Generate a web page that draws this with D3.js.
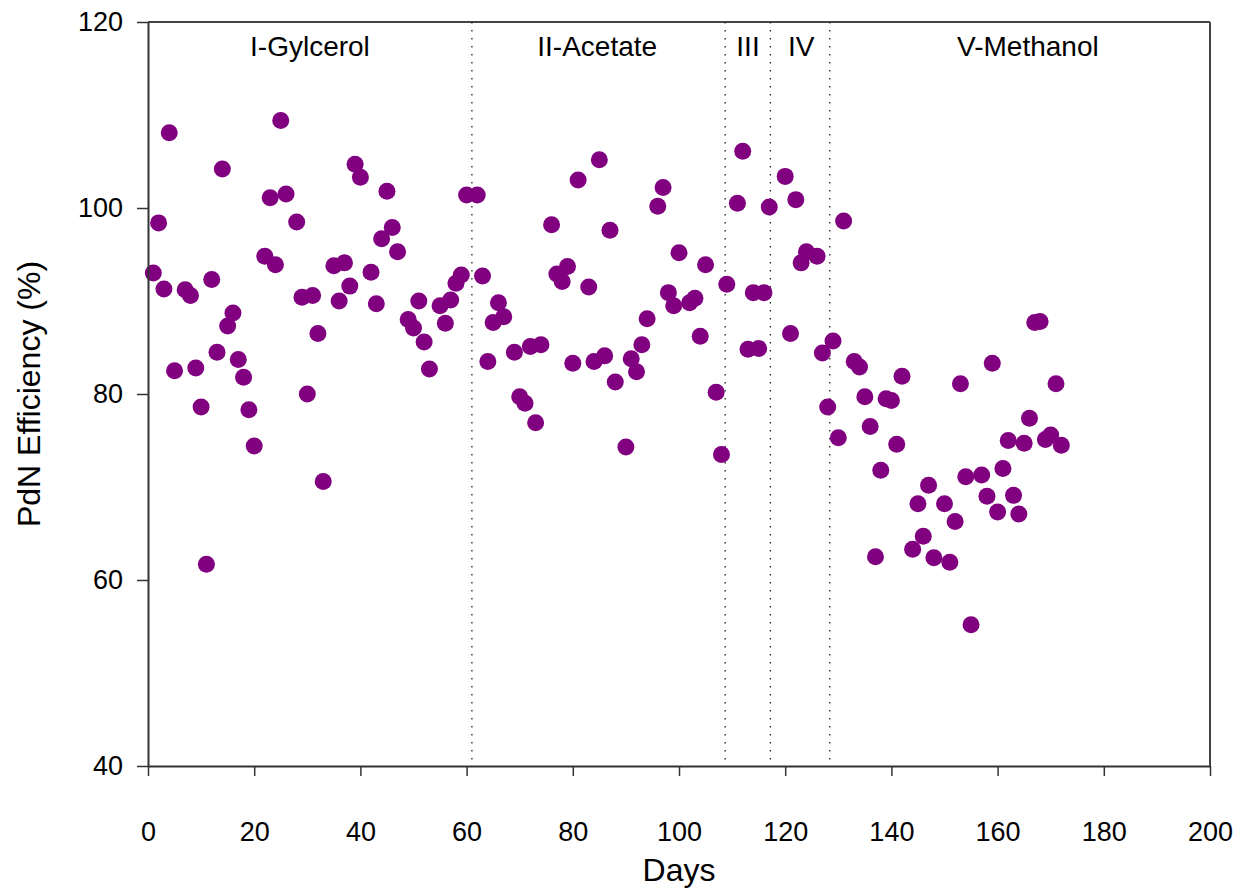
<!DOCTYPE html>
<html>
<head>
<meta charset="utf-8">
<script src="https://cdn.jsdelivr.net/npm/d3@7"></script>
<style>
  body { margin: 0; background: #fff; }
  text { font-family: "Liberation Sans", Arial, sans-serif; fill: #000; }
</style>
</head>
<body>
<script>
// days and PdN efficiency (%)
var days = [1, 2, 3, 4, 5, 7, 8, 9, 10, 11, 12, 13, 14, 15, 16, 17, 18, 19, 20,
  22, 23, 24, 25, 26, 28, 29, 30, 31, 32, 33, 35, 36, 37, 38, 39, 40,
  42, 43, 44, 45, 46, 47, 49, 50, 51, 52, 53, 55, 56, 57, 58, 59, 60, 62, 63,
  64, 65, 66, 67, 69, 70, 71, 72, 73, 74, 76, 77, 78, 79, 80, 81, 83, 84, 85, 86, 87, 88,
  90, 91, 92, 93, 94, 96, 97, 98, 99, 100, 102, 103, 104, 105, 107, 108, 109,
  111, 112, 113, 114, 115, 116, 117,
  120, 121, 122, 123, 124, 126, 127, 128,
  129, 130, 131, 133, 134, 135, 136, 137, 138, 139, 140, 141, 142, 144, 145, 146, 147, 148,
  150, 151, 152, 153, 154, 155, 157, 158, 159, 160, 161, 162, 163, 164, 165, 166, 167, 168,
  169, 170, 171, 172];
var pdn = [93.0, 98.4, 91.3, 108.1, 82.5, 91.2, 90.6, 82.8, 78.6, 61.7, 92.3, 84.5, 104.2, 87.3, 88.7, 83.7, 81.8, 78.3, 74.4,
  94.8, 101.1, 93.9, 109.4, 101.5, 98.5, 90.4, 80.0, 90.6, 86.5, 70.6, 93.8, 90.0, 94.1, 91.6, 104.7, 103.3,
  93.1, 89.7, 96.7, 101.8, 97.9, 95.3, 88.0, 87.1, 90.0, 85.6, 82.7, 89.5, 87.6, 90.1, 91.9, 92.8, 101.4, 101.4, 92.7,
  83.5, 87.7, 89.8, 88.3, 84.5, 79.7, 79.0, 85.1, 76.9, 85.3, 98.2, 92.9, 92.1, 93.7, 83.3, 103.0, 91.5, 83.5, 105.2, 84.1, 97.6, 81.3,
  74.3, 83.8, 82.4, 85.3, 88.1, 100.2, 102.2, 90.9, 89.5, 95.2, 89.8, 90.3, 86.2, 93.9, 80.2, 73.5, 91.8,
  100.5, 106.1, 84.8, 90.9, 84.9, 90.9, 100.1,
  103.4, 86.5, 100.9, 94.1, 95.3, 94.8, 84.4, 78.6,
  85.7, 75.3, 98.6, 83.5, 82.9, 79.7, 76.5, 62.5, 71.8, 79.5, 79.3, 74.6, 81.9, 63.3, 68.2, 64.7, 70.2, 62.4,
  68.2, 61.9, 66.3, 81.1, 71.1, 55.2, 71.3, 69.0, 83.3, 67.3, 72.0, 75.0, 69.1, 67.1, 74.7, 77.4, 87.7, 87.8,
  75.1, 75.6, 81.1, 74.5];

// phase boundaries (days) and phase names
var phaseBreaks = [61, 108.7, 117.2, 128.4];
var phaseNames = ["I-Gylcerol", "II-Acetate", "III", "IV", "V-Methanol"];
var phaseLabelDays = [30.5, 84.6, 113, 123, 165.7];

var xTicks = [0, 20, 40, 60, 80, 100, 120, 140, 160, 180, 200];
var yTicks = [40, 60, 80, 100, 120];

var W = 1245, H = 888;
var margin = {top: 22, right: 35, bottom: 122, left: 148};
var width = W - margin.left - margin.right,
    height = H - margin.top - margin.bottom;

var svg = d3.select("body").append("svg")
    .attr("width", W)
    .attr("height", H);

var g = svg.append("g")
    .attr("transform", "translate(" + margin.left + "," + margin.top + ")");

var x = d3.scaleLinear().domain([0, 200]).range([0, width]);
var y = d3.scaleLinear().domain([40, 120]).range([height, 0]);

// frame (top and right sides)
g.append("line").attr("x1", 0).attr("x2", width).attr("y1", 0).attr("y2", 0)
    .attr("stroke", "#444").attr("stroke-width", 2);
g.append("line").attr("x1", width).attr("x2", width).attr("y1", 0).attr("y2", height)
    .attr("stroke", "#444").attr("stroke-width", 2);

// phase dividers
g.selectAll(".divider")
    .data(phaseBreaks)
    .enter().append("line")
    .attr("class", "divider")
    .attr("x1", function(d) { return x(d); })
    .attr("x2", function(d) { return x(d); })
    .attr("y1", 0)
    .attr("y2", height)
    .attr("stroke", "#222")
    .attr("stroke-width", 1.3)
    .attr("stroke-dasharray", "1.5,6.5");

g.selectAll(".phase")
    .data(phaseNames)
    .enter().append("text")
    .attr("class", "phase")
    .attr("x", function(d, i) { return x(phaseLabelDays[i]); })
    .attr("y", 34)
    .attr("text-anchor", "middle")
    .style("font-size", "28px")
    .text(function(d) { return d; });

// points
g.selectAll("circle")
    .data(days)
    .enter().append("circle")
    .attr("cx", function(d) { return x(d); })
    .attr("cy", function(d, i) { return y(pdn[i]); })
    .attr("r", 8.5)
    .attr("fill", "#800080");

// axes
var xAxis = g.append("g")
    .attr("transform", "translate(0," + height + ")")
    .call(d3.axisBottom(x).tickValues(xTicks).tickSizeInner(10).tickSizeOuter(0).tickPadding(46));
var yAxis = g.append("g")
    .call(d3.axisLeft(y).tickValues(yTicks).tickSizeInner(11).tickSizeOuter(0).tickPadding(14));

[xAxis, yAxis].forEach(function(a) {
    a.select(".domain").attr("stroke", "#333").attr("stroke-width", 2);
    a.selectAll(".tick line").attr("stroke", "#333").attr("stroke-width", 1.5);
    a.selectAll(".tick text")
        .style("font-family", "'Liberation Sans', Arial, sans-serif")
        .style("font-size", "27px")
        .attr("fill", "#000");
});

// axis titles
svg.append("text")
    .attr("x", margin.left + width / 2)
    .attr("y", 881)
    .attr("text-anchor", "middle")
    .style("font-size", "32px")
    .text("Days");

svg.append("text")
    .attr("transform", "translate(40," + (margin.top + height / 2) + ") rotate(-90)")
    .attr("text-anchor", "middle")
    .style("font-size", "32px")
    .text("PdN Efficiency (%)");
</script>
</body>
</html>
